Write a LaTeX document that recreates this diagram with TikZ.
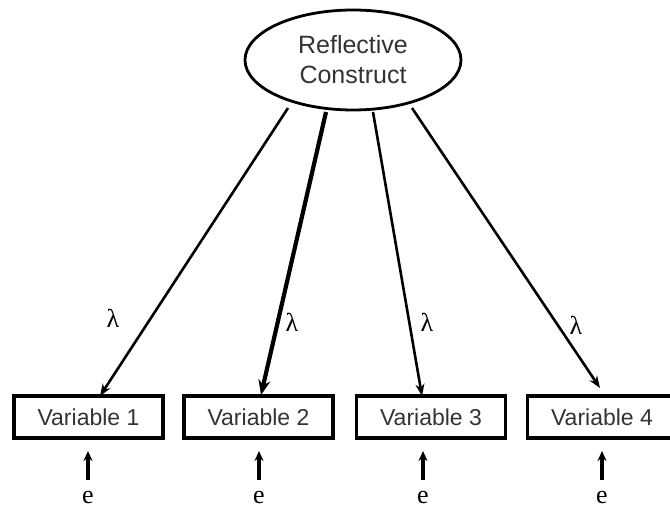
\documentclass[tikz,border=0pt]{standalone}
\usepackage{fontspec}
\setmainfont{Liberation Serif}
\setsansfont{Liberation Sans}
\usetikzlibrary{arrows.meta,shapes.geometric}
\begin{document}
\begin{tikzpicture}[x=1pt,y=-1pt,
  construct/.style={draw, ellipse, line width=2.8pt, minimum width=216pt, minimum height=100pt, inner sep=0pt,
    font=\sffamily\fontsize{25}{30}\selectfont, text=black!80, align=center},
  varbox/.style={draw, rectangle, line width=3.5pt, minimum width=149pt, minimum height=42pt, inner sep=0pt,
    font=\sffamily\fontsize{23}{26}\selectfont, text=black!80},
  load/.style={line width=2.6pt, -{Stealth[length=12pt,width=9pt]}},
  loadthick/.style={line width=4.2pt, -{Stealth[length=15pt,width=12pt]}},
  err/.style={line width=3.2pt, -{Stealth[length=10pt,width=9pt]}},
  lab/.style={font=\fontsize{26}{28}\selectfont, inner sep=0pt}]
\useasboundingbox (0,0) rectangle (670,508);
\node[construct] (c) at (353,60) {Reflective\\Construct};
\node[varbox] (v1) at (88.5,417) {Variable 1};
\node[varbox] (v2) at (258.5,417) {Variable 2};
\node[varbox] (v3) at (431,417) {Variable 3};
\node[varbox] (v4) at (602,417) {Variable 4};
\coordinate (s1) at (288,108);
\coordinate (s2) at (326,112);
\coordinate (s3) at (373,112);
\coordinate (s4) at (412,108);
\coordinate (t1) at (100,396);
\coordinate (t2) at (261,395);
\coordinate (t3) at (422,396);
\coordinate (t4) at (600,388);
\draw[load] (s1) -- (t1);
\draw[loadthick] (s2) -- (t2);
\draw[load] (s3) -- (t3);
\draw[load] (s4) -- (t4);
\node[lab] (l1) at (113,318) {λ};
\node[lab] (l2) at (292,322) {λ};
\node[lab] (l3) at (427,322) {λ};
\node[lab] (l4) at (576,325) {λ};
\node[lab] (e1) at (88,497) {e};
\node[lab] (e2) at (259,497) {e};
\node[lab] (e3) at (423,497) {e};
\node[lab] (e4) at (602,497) {e};
\coordinate (a1) at (88,480);
\coordinate (a2) at (259,480);
\coordinate (a3) at (423,480);
\coordinate (a4) at (602,480);
\coordinate (b1) at (88,451);
\coordinate (b2) at (259,451);
\coordinate (b3) at (423,451);
\coordinate (b4) at (602,451);
\draw[err] (a1) -- (b1);
\draw[err] (a2) -- (b2);
\draw[err] (a3) -- (b3);
\draw[err] (a4) -- (b4);
\end{tikzpicture}
\end{document}
